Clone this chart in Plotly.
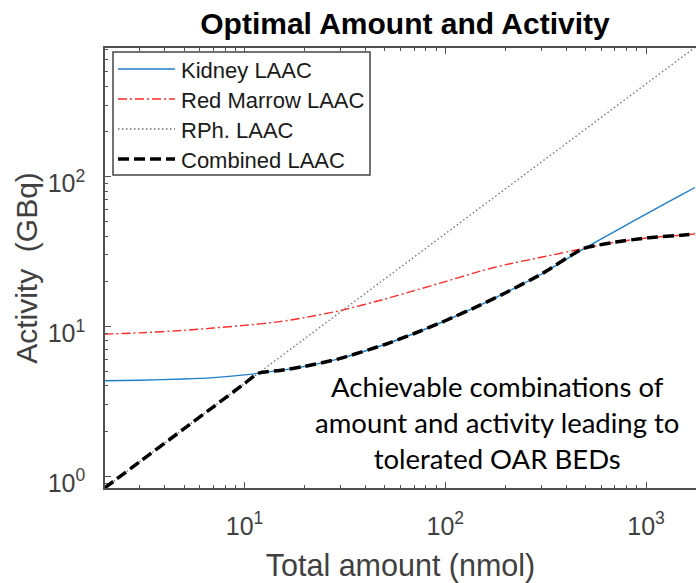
import plotly.graph_objects as go

# ---- data ----
amount = [2, 3, 5, 7, 10, 15, 20, 30, 50, 70, 100, 150, 200, 300, 500, 700, 1000, 1500, 1754]
kidney = [4.33, 4.37, 4.45, 4.55, 4.74, 5.08, 5.41, 6.11, 7.57, 8.96, 10.9, 13.9, 16.77, 22.27, 33.5, 43.1, 56.1, 75.4, 84.5]
red_marrow = [8.87, 9.05, 9.4, 9.75, 10.15, 10.75, 11.45, 12.75, 15.2, 17.3, 19.9, 23.4, 25.8, 28.9, 33.3, 36.4, 38.9, 40.6, 41.4]

rph_amount = [2, 1754]
rph = [0.83, 728]

combined_amount = [2, 3, 5, 7, 10, 11.7, 15, 20, 30, 50, 70, 100, 150, 200, 300, 487, 700, 1000, 1500, 1754]
combined = [0.83, 1.245, 2.075, 2.905, 4.15, 4.86, 5.08, 5.41, 6.11, 7.57, 8.96, 10.9, 13.9, 16.77, 22.27, 33.0, 36.4, 38.9, 40.6, 41.4]

x_major = [10, 100, 1000]
x_major_text = ["10<sup>1</sup>", "10<sup>2</sup>", "10<sup>3</sup>"]
y_major = [1, 10, 100]
y_major_text = ["10<sup>0</sup>", "10<sup>1</sup>", "10<sup>2</sup>"]
x_minor = [3, 4, 5, 6, 7, 8, 9, 20, 30, 40, 50, 60, 70, 80, 90, 200, 300, 400, 500, 600, 700, 800, 900]
y_minor = [0.9, 2, 3, 4, 5, 6, 7, 8, 9, 20, 30, 40, 50, 60, 70, 80, 90, 200, 300, 400, 500, 600, 700]

names = ["Kidney LAAC", "Red Marrow LAAC", "RPh. LAAC", "Combined LAAC"]
styles = [
    dict(color="#1f7fc8", width=1.4),
    dict(color="#ff2a2a", width=1.4, dash="9px,3px,2px,3px"),
    dict(color="#707070", width=1.3, dash="1.5px,2.5px"),
    dict(color="black", width=3.5, dash="11px,5px"),
]

FONT = "Liberation Sans, Arial, sans-serif"
AXC = "#505050"

fig = go.Figure()
series = [(amount, kidney), (amount, red_marrow), (rph_amount, rph), (combined_amount, combined)]
for (xs, ys), nm, st in zip(series, names, styles):
    fig.add_trace(go.Scatter(x=xs, y=ys, mode="lines", name=nm, line=st,
                             line_shape="spline", line_smoothing=0.6, showlegend=False))

# ---- legend drawn as a boxed key (paper coordinates) ----
def px_x(p):
    return (p - 105) / 591.0

def px_y(p):
    return (488 - p) / 440.0

fig.add_shape(type="rect", xref="paper", yref="paper",
              x0=px_x(113), x1=px_x(370), y0=px_y(175), y1=px_y(52),
              line=dict(color="#444444", width=1.5), fillcolor="white", layer="above")
line_rows = [69, 99, 129, 159]
text_rows = [71, 100.5, 130, 160]
for nm, st, ly, ty in zip(names, styles, line_rows, text_rows):
    fig.add_shape(type="line", xref="paper", yref="paper",
                  x0=px_x(118), x1=px_x(175), y0=px_y(ly), y1=px_y(ly),
                  line=st, layer="above")
    fig.add_annotation(text=nm, xref="paper", yref="paper", x=px_x(179), y=px_y(ty),
                       xanchor="left", yanchor="middle", showarrow=False,
                       font=dict(family=FONT, size=22, color="#1a1a1a"))

fig.add_annotation(
    text="Achievable combinations of<br>amount and activity leading to<br>tolerated OAR BEDs",
    xref="paper", yref="paper", x=0.663, y=0.148, xanchor="center", yanchor="middle",
    showarrow=False, align="center",
    font=dict(family="Lato, Carlito, sans-serif", size=27.5, color="black"))

fig.update_layout(
    width=696, height=583,
    margin=dict(l=105, r=0, t=48, b=95),
    paper_bgcolor="white", plot_bgcolor="white",
    font=dict(family=FONT, color="#333333"),
    title=dict(text="<b>Optimal Amount and Activity</b>", xref="paper", x=0.5076, xanchor="center",
               yref="container", y=1 - 23.5 / 583, yanchor="middle",
               font=dict(family=FONT, size=30, color="black")),
    showlegend=False,
)

fig.update_xaxes(
    type="log", range=[0.305, 3.249],
    showline=True, linecolor=AXC, linewidth=1.5, mirror="ticks",
    showgrid=False, zeroline=False,
    ticks="inside", ticklen=6, tickwidth=1, tickcolor=AXC,
    tickmode="array", tickvals=x_major, ticktext=x_major_text,
    tickfont=dict(family=FONT, size=25, color="#404040"),
    ticklabelstandoff=15,
    minor=dict(tickmode="array", tickvals=x_minor, ticks="inside", ticklen=3,
               tickcolor=AXC, tickwidth=1, showgrid=False),
    title=dict(text="Total amount (nmol)", font=dict(family=FONT, size=30.5, color="#404040"), standoff=17),
)
fig.update_yaxes(
    type="log", range=[-0.079, 2.858],
    showline=True, linecolor=AXC, linewidth=1.5, mirror=False,
    showgrid=False, zeroline=False,
    ticks="inside", ticklen=6, tickwidth=1, tickcolor=AXC,
    tickmode="array", tickvals=y_major, ticktext=y_major_text,
    tickfont=dict(family=FONT, size=25, color="#404040"),
    ticklabelstandoff=13, ticklabelshift=7,
    minor=dict(tickmode="array", tickvals=y_minor, ticks="inside", ticklen=3,
               tickcolor=AXC, tickwidth=1, showgrid=False),
    title=dict(text="Activity  (GBq)", font=dict(family=FONT, size=30, color="#404040"), standoff=1),
)

fig.write_html("out.html")
